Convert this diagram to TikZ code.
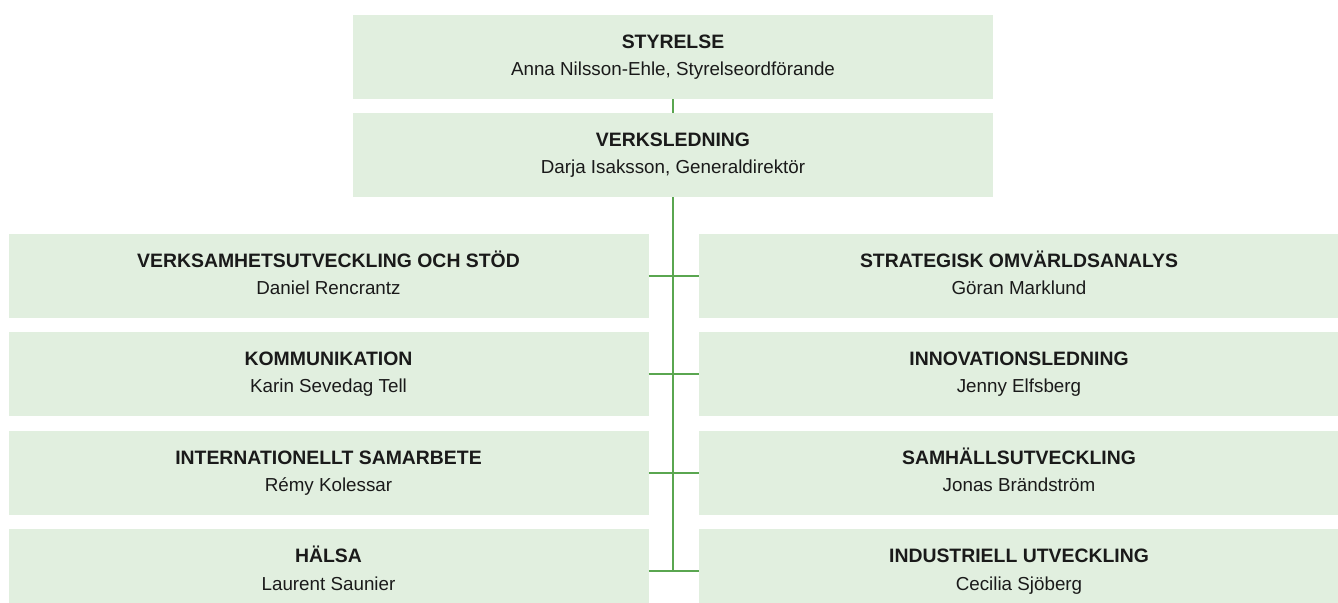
\documentclass[tikz,border=0pt]{standalone}
\usepackage{fontspec}
\setmainfont{Liberation Sans}
\usepackage{tikz}
\usetikzlibrary{positioning, calc}
\definecolor{orgfill}{HTML}{E1EFDF}
\definecolor{orgline}{HTML}{5AA650}
\definecolor{orgtext}{HTML}{1A1A1A}
\newcommand{\orgunit}[2]{{\fontsize{9.7}{13.5}\selectfont\bfseries #1}\\#2}

\begin{document}
\begin{tikzpicture}[
    x=0.5pt, y=-0.5pt,
    unit/.style={rectangle, fill=orgfill, draw=none, inner sep=0pt,
                 minimum width=320pt, minimum height=42pt, align=center,
                 text height=19pt, text depth=0pt,
                 text=orgtext, font=\fontsize{9.4}{13.5}\selectfont},
    link/.style={line width=1pt, color=orgline}
]
\useasboundingbox (0,0) rectangle (1338,603);

\node[unit] (styr) at (673,57)  {\orgunit{STYRELSE}{Anna Nilsson-Ehle, Styrelseordförande}};
\node[unit] (verk) at (673,155) {\orgunit{VERKSLEDNING}{Darja Isaksson, Generaldirektör}};

\node[unit] (vos)  at (328.5,276) {\orgunit{VERKSAMHETSUTVECKLING OCH STÖD}{Daniel Rencrantz}};
\node[unit] (kom)  at (328.5,374) {\orgunit{KOMMUNIKATION}{Karin Sevedag Tell}};
\node[unit] (int)  at (328.5,473) {\orgunit{INTERNATIONELLT SAMARBETE}{Rémy Kolessar}};
\node[unit] (hal)  at (328.5,571) {\orgunit{HÄLSA}{Laurent Saunier}};

\node[unit] (som)  at (1019,276) {\orgunit{STRATEGISK OMVÄRLDSANALYS}{Göran Marklund}};
\node[unit] (inl)  at (1019,374) {\orgunit{INNOVATIONSLEDNING}{Jenny Elfsberg}};
\node[unit] (sam)  at (1019,473) {\orgunit{SAMHÄLLSUTVECKLING}{Jonas Brändström}};
\node[unit] (ind)  at (1019,571) {\orgunit{INDUSTRIELL UTVECKLING}{Cecilia Sjöberg}};

\coordinate (trunk) at ($(hal.east)!0.5!(ind.west)$);

\draw[link] (styr) -- (verk);
\draw[link] (verk.south) -- (verk.south |- trunk);
\draw[link] (vos.east) -- (som.west);
\draw[link] (kom.east) -- (inl.west);
\draw[link] (int.east) -- (sam.west);
\draw[link] (hal.east) -- (ind.west);
\end{tikzpicture}
\end{document}
